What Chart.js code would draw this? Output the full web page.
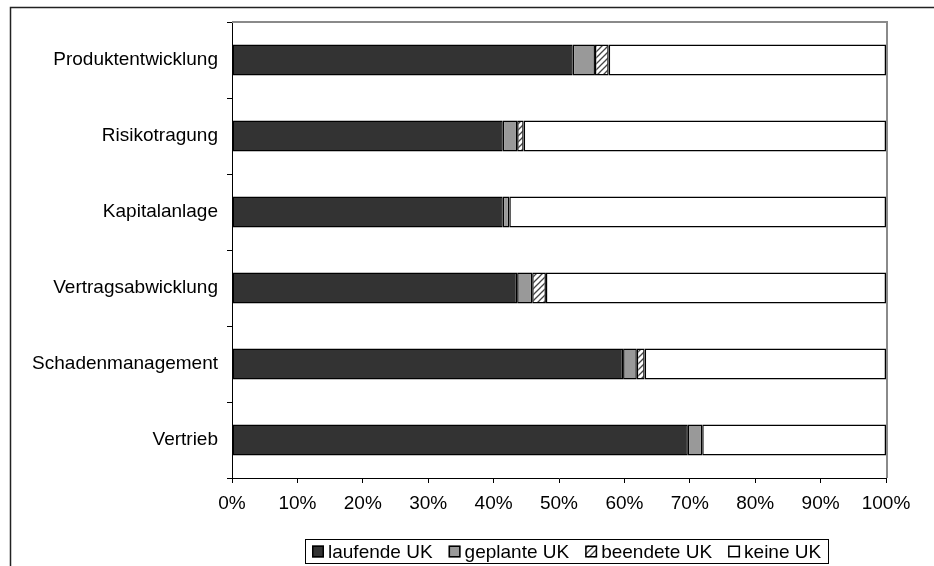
<!DOCTYPE html>
<html>
<head>
<meta charset="utf-8">
<script src="https://cdn.jsdelivr.net/npm/chart.js@4/dist/chart.umd.min.js"></script>
<style>
  html, body { margin: 0; padding: 0; background: #fff; }
  #wrap { width: 934px; height: 566px; position: relative; }
</style>
</head>
<body>
<div id="wrap"><canvas id="chart"></canvas></div>
<script>
const categories = ["Produktentwicklung", "Risikotragung", "Kapitalanlage", "Vertragsabwicklung", "Schadenmanagement", "Vertrieb"];
const laufende = [52.1, 41.4, 41.4, 43.6, 59.8, 69.7];
const geplante = [3.4, 2.2, 1.0, 2.3, 2.1, 2.2];
const beendete = [2.1, 1.0, 0, 2.1, 1.2, 0];
const keine = [42.4, 55.4, 57.6, 52.0, 36.9, 28.1];
const seriesNames = ["laufende UK", "geplante UK", "beendete UK", "keine UK"];
const xTicks = [0, 10, 20, 30, 40, 50, 60, 70, 80, 90, 100];

const FONT = "Liberation Sans, Arial, sans-serif";
const FONT_SIZE = 19;

function makeHatch() {
  const c = document.createElement("canvas");
  c.width = 6;
  c.height = 6;
  const g = c.getContext("2d");
  g.fillStyle = "#fff";
  g.fillRect(0, 0, 6, 6);
  g.strokeStyle = "#444";
  g.lineWidth = 1.3;
  g.beginPath();
  g.moveTo(-1, 7); g.lineTo(7, -1);
  g.moveTo(-4, 4); g.lineTo(4, -4);
  g.moveTo(2, 10); g.lineTo(10, 2);
  g.stroke();
  return g.createPattern(c, "repeat");
}

const hatch = makeHatch();
const fills = ["#333333", "#999999", hatch, "#ffffff"];

// frame around the whole picture, plus the gray top and right edge of the plot
const framePlugin = {
  id: "framePlugin",
  afterDraw(chart) {
    const { ctx } = chart;
    const area = chart.chartArea;
    ctx.save();
    ctx.fillStyle = "#8a8a8a";
    ctx.fillRect(area.left, area.top - 1, area.right - area.left + 2, 2);
    ctx.fillRect(area.right, area.top - 1, 2, area.bottom - area.top + 1);

    ctx.strokeStyle = "#222";
    ctx.lineWidth = 1.5;
    ctx.beginPath();
    ctx.moveTo(10.5, chart.height);
    ctx.lineTo(10.5, 7.5);
    ctx.lineTo(chart.width, 7.5);
    ctx.stroke();
    ctx.restore();
  },
};

// boxed legend like the original spreadsheet chart
const boxLegendPlugin = {
  id: "boxLegendPlugin",
  afterDraw(chart) {
    const { ctx } = chart;
    const box = 12;
    const gap = 4;
    const itemGap = 16;
    const centerX = 567;
    const top = 539;
    const height = 24;

    ctx.save();
    ctx.font = `${FONT_SIZE}px ${FONT}`;
    const items = chart.data.datasets.map((ds) => ({
      label: ds.label,
      fill: ds.backgroundColor,
      w: box + gap + ctx.measureText(ds.label).width,
    }));
    const total = items.reduce((s, it) => s + it.w, 0) + itemGap * (items.length - 1);
    const padX = 7;
    const left = Math.round(centerX - total / 2 - padX);

    ctx.fillStyle = "#fff";
    ctx.fillRect(left, top, total + padX * 2, height);
    ctx.strokeStyle = "#000";
    ctx.lineWidth = 1;
    ctx.strokeRect(left + 0.5, top + 0.5, Math.round(total + padX * 2), height);

    let x = left + padX;
    const midY = top + height / 2 + 0.5;
    ctx.textBaseline = "middle";
    ctx.textAlign = "left";
    items.forEach((it) => {
      ctx.fillStyle = it.fill;
      ctx.fillRect(x, midY - box / 2, box, box);
      ctx.strokeStyle = "#000";
      ctx.lineWidth = 1.5;
      ctx.strokeRect(x + 0.75, midY - box / 2 + 0.75, box - 1.5, box - 1.5);
      ctx.fillStyle = "#000";
      ctx.fillText(it.label, x + box + gap, midY + 1);
      x += it.w + itemGap;
    });
    ctx.restore();
  },
};

const seriesValues = [laufende, geplante, beendete, keine];

const datasets = seriesValues.map((values, i) => ({
  label: seriesNames[i],
  data: values,
  backgroundColor: fills[i],
  borderColor: "#000",
  borderWidth: 1.5,
  borderSkipped: false,
  barPercentage: 0.41,
  categoryPercentage: 1,
}));

new Chart(document.getElementById("chart"), {
  type: "bar",
  data: { labels: categories, datasets },
  plugins: [framePlugin, boxLegendPlugin],
  options: {
    indexAxis: "y",
    responsive: true,
    maintainAspectRatio: false,
    animation: false,
    events: [],
    layout: { padding: { top: 22, right: 48, bottom: 38, left: 0 } },
    plugins: {
      legend: { display: false },
      tooltip: { enabled: false },
    },
    scales: {
      x: {
        stacked: true,
        min: 0,
        max: 100,
        afterBuildTicks(scale) {
          scale.ticks = xTicks.map((v) => ({ value: v }));
        },
        afterFit(scale) { scale.height = 50; },
        ticks: {
          callback: (v) => v + "%",
          color: "#000",
          font: { family: FONT, size: FONT_SIZE },
          padding: 9,
          maxRotation: 0,
        },
        grid: { drawOnChartArea: false, tickLength: 5, color: "#000" },
        border: { color: "#000", width: 1 },
      },
      y: {
        stacked: true,
        afterFit(scale) { scale.width = 232; },
        ticks: {
          color: "#000",
          font: { family: FONT, size: FONT_SIZE },
          padding: 9,
        },
        grid: { drawOnChartArea: false, offset: true, tickLength: 5, color: "#000" },
        border: { color: "#000", width: 1 },
      },
    },
  },
});
</script>
</body>
</html>
